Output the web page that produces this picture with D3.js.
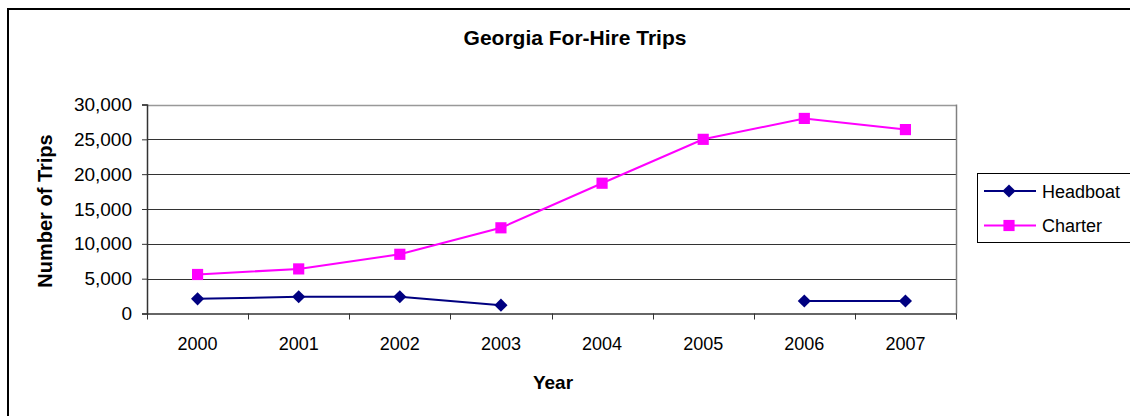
<!DOCTYPE html>
<html><head><meta charset="utf-8">
<script src="https://cdn.jsdelivr.net/npm/d3@7"></script>
<style>
html,body{margin:0;padding:0;background:#fff;}
svg{display:block;}
text{font-family:"Liberation Sans",Arial,sans-serif;fill:#000;}
</style></head>
<body>
<svg id="chart" width="1130" height="416"></svg>
<script>
const years = ["2000","2001","2002","2003","2004","2005","2006","2007"];
const headboat = [2100, 2400, 2400, 1200, null, null, 1800, 1800];
const charter = [5600, 6400, 8500, 12300, 18700, 25000, 28000, 26400];
const yTicks = [0, 5000, 10000, 15000, 20000, 25000, 30000];
const seriesNames = ["Headboat", "Charter"];
const seriesColors = ["#000080", "#FF00FF"];

const svg = d3.select("#chart");
// outer frame
svg.append("rect").attr("x",8).attr("y",9).attr("width",1130).attr("height",420)
  .attr("fill","none").attr("stroke","#000").attr("stroke-width",2);

const L=147, R=956, T=104.5, B=313.5;
const x = d3.scaleBand().domain(years).range([L,R]);
const y = d3.scaleLinear().domain([0,30000]).range([B,T]);

// gridlines
svg.append("g").selectAll("line").data(yTicks.filter(d=>d>0)).join("line")
  .attr("x1",L).attr("x2",R).attr("y1",d=>Math.round(y(d))+0.5).attr("y2",d=>Math.round(y(d))+0.5)
  .attr("stroke",d=>d===30000?"#999":"#333").attr("stroke-width",d=>d===30000?1.5:1);
// right border
svg.append("line").attr("x1",R+0.5).attr("x2",R+0.5).attr("y1",T).attr("y2",B)
  .attr("stroke","#808080").attr("stroke-width",1.5);

// y axis
const yAxis = svg.append("g").attr("transform",`translate(${L},0)`)
  .call(d3.axisLeft(y).tickValues(yTicks).tickSize(5).tickPadding(10).tickFormat(d3.format(",")));
yAxis.select(".domain").attr("stroke","#333").attr("stroke-width",1.5);
yAxis.selectAll(".tick line").attr("stroke","#333");
yAxis.selectAll("text").attr("font-size","19px").attr("font-family","Liberation Sans, Arial, sans-serif").attr("fill","#000");

// x axis
const xAxis = svg.append("g").attr("transform",`translate(0,${B})`)
  .call(d3.axisBottom(x).tickSize(0).tickPadding(24));
xAxis.select(".domain").attr("stroke","#333").attr("stroke-width",1.5);
xAxis.selectAll("text").attr("font-size","18px").attr("font-family","Liberation Sans, Arial, sans-serif").attr("fill","#000");
// band boundary ticks
svg.append("g").selectAll("line").data(years.concat(["end"])).join("line")
  .attr("x1",(d,i)=>Math.round(L+i*x.step())+0.5).attr("x2",(d,i)=>Math.round(L+i*x.step())+0.5)
  .attr("y1",B).attr("y2",B+6).attr("stroke","#333");

const cx = d => x(d)+x.bandwidth()/2;
const diamond = d3.symbol().type(d3.symbolDiamond2).size(110);
const square = d3.symbol().type(d3.symbolSquare).size(125);

function drawSeries(vals, color, sym){
  const pts = years.map((yr,i)=>({yr, v: vals[i]}));
  const line = d3.line().defined(d=>d.v!=null).x(d=>cx(d.yr)).y(d=>y(d.v));
  svg.append("path").datum(pts).attr("d",line).attr("fill","none").attr("stroke",color).attr("stroke-width",2);
  svg.append("g").selectAll("path").data(pts.filter(d=>d.v!=null)).join("path")
    .attr("d",sym).attr("transform",d=>`translate(${cx(d.yr)},${y(d.v)})`).attr("fill",color);
}
drawSeries(charter, seriesColors[1], square);
drawSeries(headboat, seriesColors[0], diamond);

// title
svg.append("text").attr("x",575).attr("y",45).attr("text-anchor","middle")
  .attr("font-size","21px").attr("font-weight","bold").text("Georgia For-Hire Trips");
// axis titles
svg.append("text").attr("transform","translate(52,211) rotate(-90)").attr("text-anchor","middle")
  .attr("font-size","20px").attr("font-weight","bold").text("Number of Trips");
svg.append("text").attr("x",553).attr("y",389).attr("text-anchor","middle")
  .attr("font-size","19px").attr("font-weight","bold").text("Year");

// legend
svg.append("rect").attr("x",977.5).attr("y",173.5).attr("width",200).attr("height",69)
  .attr("fill","#fff").attr("stroke","#000").attr("stroke-width",1);
const leg = svg.append("g").selectAll("g").data(seriesNames).join("g")
  .attr("transform",(d,i)=>`translate(0,${191+i*34.5})`);
leg.append("line").attr("x1",984).attr("x2",1036).attr("stroke",(d,i)=>seriesColors[i]).attr("stroke-width",2);
leg.append("path").attr("d",(d,i)=>i===0?diamond():square()).attr("transform","translate(1009,0)")
  .attr("fill",(d,i)=>seriesColors[i]);
leg.append("text").attr("x",1042).attr("y",6.5).attr("font-size","18px").text(d=>d);
</script>
</body></html>
